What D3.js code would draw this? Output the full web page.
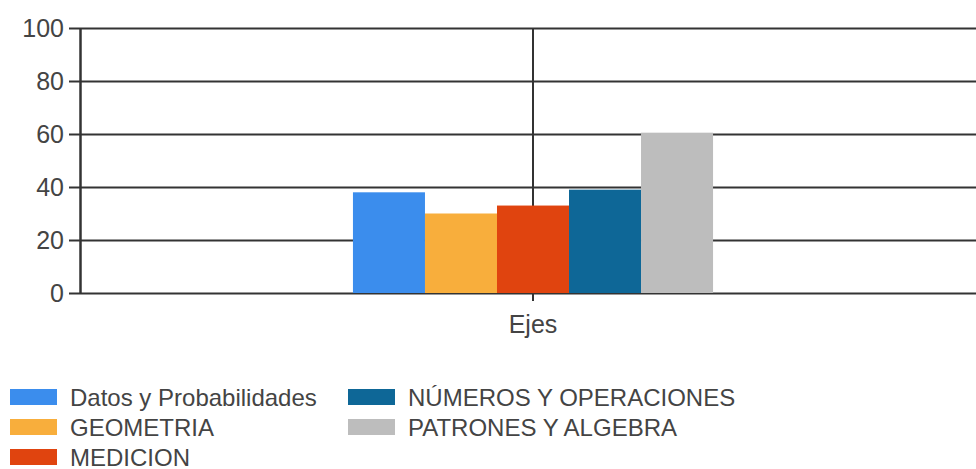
<!DOCTYPE html>
<html lang="es">
<head>
<meta charset="UTF-8">
<title>Ejes</title>
<script src="https://d3js.org/d3.v7.min.js"></script>
<style>
  body { margin: 0; background: #fff; }
  svg { display: block; font-family: "Liberation Sans", Arial, sans-serif; }
</style>
</head>
<body>
<div id="chart"></div>
<script>
// data
var categories = ["Ejes"];
var series = ["Datos y Probabilidades", "GEOMETRIA", "MEDICION", "NÚMEROS Y OPERACIONES", "PATRONES Y ALGEBRA"];
var values = [38, 30, 33, 39, 60.5];
var colors = ["#3b8ded", "#f8ae3c", "#e0440f", "#0e6797", "#bdbdbd"];
var yTicks = [0, 20, 40, 60, 80, 100];

var W = 976, H = 469;
var margin = { top: 28, right: -10, bottom: 176, left: 80 };
var width = W - margin.left - margin.right,
    height = H - margin.top - margin.bottom;

var svg = d3.select("#chart").append("svg")
    .attr("width", W)
    .attr("height", H);

var g = svg.append("g")
    .attr("transform", "translate(" + margin.left + "," + margin.top + ")");

var y = d3.scaleLinear().domain([0, 100]).range([height, 0]);

var x0 = d3.scaleBand().domain(categories).range([0, width])
    .paddingInner(0).paddingOuter(0.758);
var x1 = d3.scaleBand().domain(series).range([0, x0.bandwidth()]);

// horizontal grid
g.append("g")
    .attr("class", "grid")
    .call(d3.axisLeft(y).tickValues(yTicks).tickSize(-width).tickFormat(""))
    .call(function (s) {
        s.select(".domain").remove();
        s.selectAll("line").attr("stroke", "#333").attr("stroke-width", 2);
    });

// y axis
g.append("g")
    .call(d3.axisLeft(y).tickValues(yTicks).tickSize(11).tickSizeOuter(0).tickPadding(5))
    .call(function (s) {
        s.select(".domain").attr("stroke", "#333").attr("stroke-width", 2.5);
        s.selectAll("line").attr("stroke", "#333").attr("stroke-width", 2);
        s.selectAll("text").attr("font-size", 25).attr("fill", "#444");
    });

// x axis with category gridline
g.append("g")
    .attr("transform", "translate(0," + height + ")")
    .call(d3.axisBottom(x0).tickSize(8).tickSizeOuter(0).tickPadding(14))
    .call(function (s) {
        s.select(".domain").remove();
        s.selectAll(".tick line").attr("stroke", "#333").attr("stroke-width", 2);
        s.selectAll(".tick").append("line")
            .attr("y1", 0).attr("y2", -height)
            .attr("stroke", "#333").attr("stroke-width", 2);
        s.selectAll("text").attr("font-size", 25).attr("fill", "#444");
    });

// bars
g.append("g")
    .selectAll("g")
    .data(categories)
    .enter().append("g")
    .attr("transform", function (d) { return "translate(" + x0(d) + ",0)"; })
    .selectAll("rect")
    .data(function () { return series.map(function (s, i) { return { name: s, value: values[i], color: colors[i] }; }); })
    .enter().append("rect")
    .attr("x", function (d) { return x1(d.name); })
    .attr("width", x1.bandwidth())
    .attr("y", function (d) { return y(d.value); })
    .attr("height", function (d) { return height - y(d.value); })
    .attr("fill", function (d) { return d.color; });

// legend
var legend = svg.append("g");
var item = legend.selectAll("g")
    .data(series)
    .enter().append("g")
    .attr("transform", function (d, i) {
        var col = i < 3 ? 0 : 1;
        var row = i < 3 ? i : i - 3;
        return "translate(" + (col === 0 ? 10 : 348) + "," + (389 + row * 30) + ")";
    });

item.append("rect")
    .attr("width", 47)
    .attr("height", 16)
    .attr("fill", function (d, i) { return colors[i]; });

item.append("text")
    .attr("x", 60)
    .attr("y", 16.5)
    .attr("font-size", 24)
    .attr("fill", "#444")
    .text(function (d) { return d; });
</script>
</body>
</html>
